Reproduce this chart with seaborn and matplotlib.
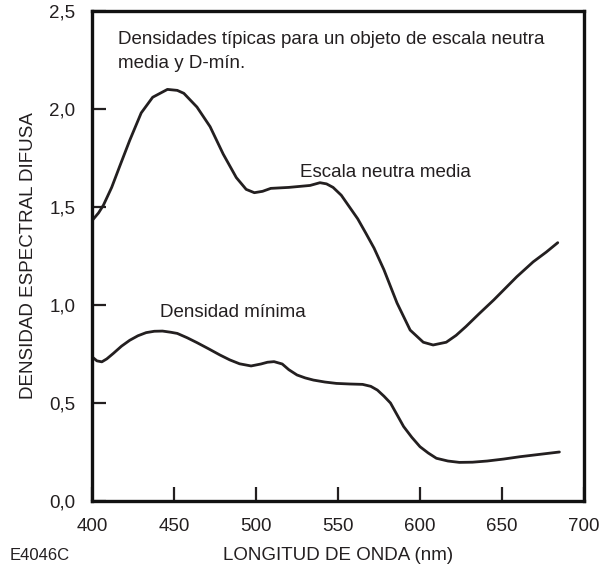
import matplotlib
matplotlib.use("Agg")
import matplotlib.pyplot as plt
import seaborn as sns
import pandas as pd
from matplotlib.ticker import FuncFormatter

# Escala neutra media
neutral_nm = [400, 404, 407, 412, 417, 423, 430, 437, 446, 452, 456, 464, 472, 480,
              488, 494, 499, 504, 509, 520, 533, 539, 543, 547, 552, 557, 562, 567,
              572, 578, 586, 594, 602, 608, 616, 622, 628, 636, 645, 652, 659, 669,
              677, 684]
neutral_d = [1.43, 1.47, 1.51, 1.60, 1.71, 1.84, 1.98, 2.06, 2.10, 2.095, 2.08, 2.01,
             1.91, 1.77, 1.65, 1.59, 1.573, 1.58, 1.595, 1.60, 1.61, 1.624, 1.618,
             1.60, 1.56, 1.50, 1.44, 1.366, 1.29, 1.18, 1.01, 0.872, 0.81, 0.796,
             0.81, 0.845, 0.89, 0.955, 1.026, 1.085, 1.144, 1.22, 1.27, 1.318]

# Densidad mínima
dmin_nm = [400, 403, 406, 409, 413, 418, 423, 428, 433, 438, 443, 448, 452, 458,
           464, 471, 478, 484, 490, 497, 503, 507, 511, 516, 520, 525, 530, 535,
           542, 549, 557, 565, 570, 574, 578, 582, 586, 590, 595, 600, 605, 610,
           617, 624, 632, 641, 651, 661, 673, 685]
dmin_d = [0.736, 0.715, 0.71, 0.725, 0.753, 0.79, 0.82, 0.843, 0.859, 0.866, 0.867,
          0.861, 0.855, 0.833, 0.808, 0.777, 0.745, 0.72, 0.70, 0.689, 0.699, 0.708,
          0.711, 0.699, 0.67, 0.643, 0.628, 0.617, 0.607, 0.60, 0.597, 0.595, 0.585,
          0.566, 0.535, 0.50, 0.44, 0.38, 0.325, 0.277, 0.245, 0.218, 0.204, 0.197,
          0.198, 0.204, 0.214, 0.226, 0.238, 0.25]

x_ticks = [400, 450, 500, 550, 600, 650, 700]
y_ticks = [0.0, 0.5, 1.0, 1.5, 2.0, 2.5]

sns.set_theme(style="white")
plt.rcParams['font.family'] = ['Liberation Sans', 'DejaVu Sans']

df = pd.concat([
    pd.DataFrame({"nm": neutral_nm, "d": neutral_d, "serie": "Escala neutra media"}),
    pd.DataFrame({"nm": dmin_nm, "d": dmin_d, "serie": "Densidad mínima"}),
])

INK = "#231f20"
FS = 13.5

fig = plt.figure(figsize=(6.13, 5.75), dpi=100)
ax = fig.add_axes([92 / 613, 1 - 501 / 575, (584 - 92) / 613, (501 - 11) / 575])

sns.lineplot(data=df, x="nm", y="d", units="serie", estimator=None, sort=False,
             color=INK, linewidth=2.0, ax=ax, legend=False)

ax.set_xlim(400, 700)
ax.set_ylim(0, 2.5)
ax.set_xticks(x_ticks)
ax.set_yticks(y_ticks)
ax.xaxis.set_major_formatter(FuncFormatter(lambda v, p: f"{v:.0f}"))
ax.yaxis.set_major_formatter(FuncFormatter(lambda v, p: f"{v:.1f}".replace(".", ",")))
ax.tick_params(axis="both", direction="in", length=10, width=1.6, color=INK,
               labelsize=FS, labelcolor=INK,
               bottom=True, left=True, top=False, right=False)
ax.tick_params(axis="x", pad=12)
ax.tick_params(axis="y", pad=12)
for s in ax.spines.values():
    s.set_linewidth(2.4)
    s.set_color("#111111")

ax.set_xlabel("LONGITUD DE ONDA (nm)", fontsize=FS, color=INK, labelpad=9)
ax.set_ylabel("DENSIDAD ESPECTRAL DIFUSA", fontsize=FS, color=INK, labelpad=9)

ax.text(415.9, 2.40, "Densidades típicas para un objeto de escala neutra\nmedia y D-mín.",
        fontsize=FS, color=INK, va="top", ha="left", linespacing=1.6)
ax.text(526.8, 1.675, "Escala neutra media", fontsize=FS, color=INK, va="center", ha="left")
ax.text(441.5, 0.964, "Densidad mínima", fontsize=FS, color=INK, va="center", ha="left")

fig.text(10 / 613, 1 - 556 / 575, "E4046C", fontsize=12, color=INK, va="center", ha="left")

fig.savefig("out.png", dpi=100)
